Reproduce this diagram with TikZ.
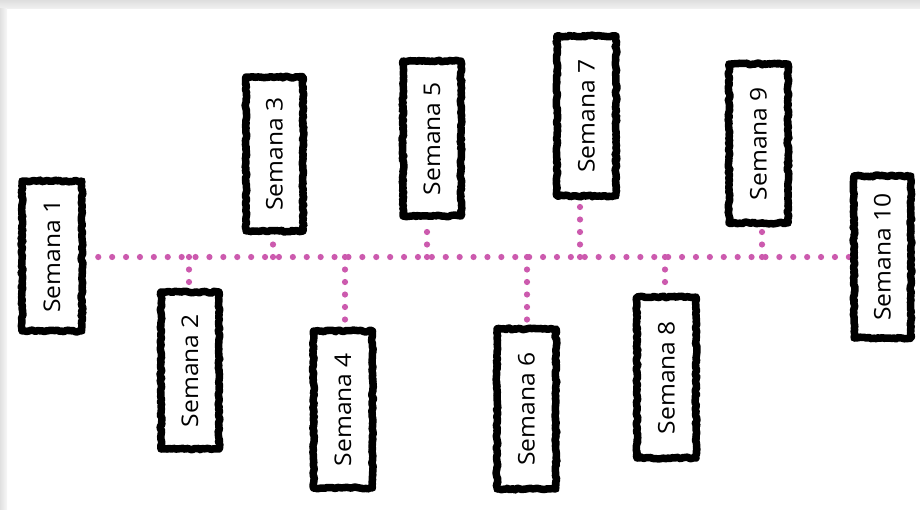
\documentclass[tikz,border=0pt]{standalone}
\usepackage{fontspec}
\newfontfamily\lblfont[FakeStretch=1.07]{Open Sans}
\usetikzlibrary{decorations.pathmorphing,backgrounds}
\definecolor{dotpink}{RGB}{204,90,174}
\tikzset{
  wk/.style={draw=black, fill=white, line width=7.5pt, line join=round, inner sep=0pt,
    decorate, decoration={random steps, segment length=2.2pt, amplitude=0.9pt},
    font=\lblfont\fontsize{23}{27}\selectfont},
  hdots/.style={draw=dotpink, line width=6.2pt, line cap=round, dash pattern=on 0pt off 13.9pt},
  vdots/.style={draw=dotpink, line width=6.2pt, line cap=round, dash pattern=on 0pt off 12.5pt}
}
\begin{document}
\begin{tikzpicture}[x=1pt, y=-1pt]
\pgfmathsetseed{7}
\useasboundingbox (0,0) rectangle (920,509);
\shade[top color=black!13, bottom color=black!6] (0,0) rectangle (920,8);
\shade[left color=black!12, right color=black!3] (0,8) rectangle (7,509);

\node[wk, minimum width=60pt, minimum height=150pt] (b1) at (52,256) {\rotatebox{90}{Semana 1}};
\node[wk, minimum width=58pt, minimum height=157pt] (b2) at (190,370.5) {\rotatebox{90}{Semana 2}};
\node[wk, minimum width=57pt, minimum height=154pt] (b3) at (274.5,154) {\rotatebox{90}{Semana 3}};
\node[wk, minimum width=59pt, minimum height=157pt] (b4) at (343,409.5) {\rotatebox{90}{Semana 4}};
\node[wk, minimum width=58pt, minimum height=155pt] (b5) at (432,138.5) {\rotatebox{90}{Semana 5}};
\node[wk, minimum width=59pt, minimum height=160pt] (b6) at (526.5,409) {\rotatebox{90}{Semana 6}};
\node[wk, minimum width=59pt, minimum height=160pt] (b7) at (586.5,116) {\rotatebox{90}{Semana 7}};
\node[wk, minimum width=59pt, minimum height=161pt] (b8) at (666.5,377.5) {\rotatebox{90}{Semana 8}};
\node[wk, minimum width=59pt, minimum height=159pt] (b9) at (758.5,143.5) {\rotatebox{90}{Semana 9}};
\node[wk, minimum width=57pt, minimum height=162pt] (b10) at (882.5,257) {\rotatebox{90}{Semana 10}};

\coordinate (j2) at (189,257);
\coordinate (j3) at (273,257);
\coordinate (j4) at (345,257);
\coordinate (j5) at (427,257);
\coordinate (j6) at (527,257);
\coordinate (j7) at (580,257);
\coordinate (j8) at (665,257);
\coordinate (j9) at (762,257);

\begin{pgfonlayer}{background}
\draw[hdots, shorten <=12.5pt] (b1.east |- j2) -- (b10.west |- j2);
\draw[vdots] (j2) -- (b2.north -| j2);
\draw[vdots] (j3) -- (b3.south -| j3);
\draw[vdots] (j4) -- (b4.north -| j4);
\draw[vdots] (j5) -- (b5.south -| j5);
\draw[vdots] (j6) -- (b6.north -| j6);
\draw[vdots] (j7) -- (b7.south -| j7);
\draw[vdots] (j8) -- (b8.north -| j8);
\draw[vdots] (j9) -- (b9.south -| j9);
\end{pgfonlayer}
\end{tikzpicture}
\end{document}
